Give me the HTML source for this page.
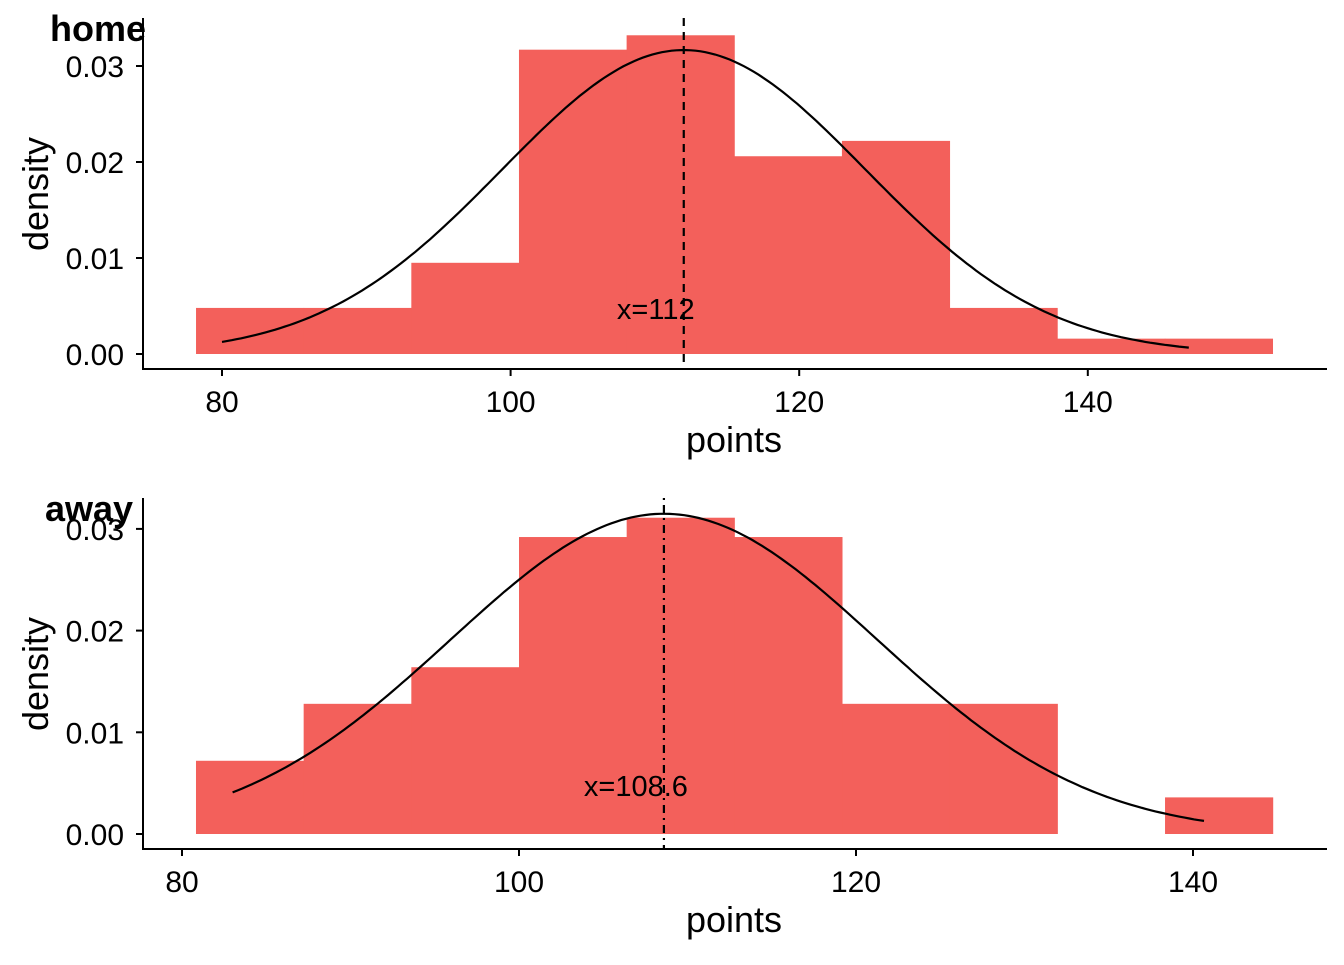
<!DOCTYPE html>
<html><head><meta charset="utf-8"><style>
body{margin:0;background:#fff}
svg text{font-family:"Liberation Sans",Arial,sans-serif;fill:#000}
</style></head><body>
<svg id="c" width="1344" height="960"></svg>
<script>
// Home panel data
const homeStart = 78.2;
const homeWidth = 7.46;
const homeDensity = [0.0048,0.0048,0.0095,0.0317,0.0332,0.0206,0.0222,0.0048,0.0016,0.0016];
const homeMean = 112;
const homeSd = 12.6;
const homeCurveRange = [80,147];
const homeXTicks = [80,100,120,140];
// Away panel data
const awayStart = 80.83;
const awayWidth = 6.39;
const awayDensity = [0.0072,0.0128,0.0164,0.0292,0.0311,0.0292,0.0128,0.0128,0,0.0036];
const awayMean = 108.6;
const awaySd = 12.67;
const awayCurveRange = [83,140.65];
const awayXTicks = [80,100,120,140];
const yTicks = [0,0.01,0.02,0.03];
const yTickLabels = ["0.00","0.01","0.02","0.03"];

const NS="http://www.w3.org/2000/svg";
const svg=document.getElementById('c');
function mk(tag,attrs,parent){const e=document.createElementNS(NS,tag);for(const k in attrs)e.setAttribute(k,attrs[k]);(parent||svg).appendChild(e);return e;}

function panel(o){
  const g=mk('g',{});
  
  
  const X=v=>o.x0px+(v-o.x0)*o.xs;
  const Y=v=>o.y0px-v*o.ys;
  o.dens.forEach((d,i)=>{
    if(d<=0)return;
    const x1=X(o.start+i*o.w),x2=X(o.start+(i+1)*o.w);
    const r=mk('rect',{x:x1,y:Y(d),width:x2-x1+0.5,height:Y(0)-Y(d),fill:'#F3605B'},g);
    
    
  });
  let p='';
  for(let i=0;i<=200;i++){const v=o.cr[0]+(o.cr[1]-o.cr[0])*i/200;
    const d=Math.exp(-0.5*((v-o.mean)/o.sd)**2)/(o.sd*Math.sqrt(2*Math.PI));
    p+=(i?'L':'M')+X(v).toFixed(1)+' '+Y(d).toFixed(1);}
  const c=mk('path',{d:p,fill:'none',stroke:'#000','stroke-width':2.2},g);
  
  
  const vl=mk('line',{x1:X(o.mean),x2:X(o.mean),y1:o.top,y2:o.axisY,stroke:'#000','stroke-width':2.2,'stroke-dasharray':o.dash},g);
  
  
  const lb=mk('text',{x:X(o.mean)-28,y:Y(0.0047)+10,'font-size':29,'text-anchor':'middle'},g);
  lb.textContent='x='+o.mean;
  
  
  mk('line',{x1:143,x2:143,y1:o.top,y2:o.axisY+1,stroke:'#000','stroke-width':2},g);
  mk('line',{x1:142,x2:1327,y1:o.axisY,y2:o.axisY,stroke:'#000','stroke-width':2},g);
  yTicks.forEach((t,i)=>{
    mk('line',{x1:136,x2:143,y1:Y(t),y2:Y(t),stroke:'#000','stroke-width':2},g);
    const tt=mk('text',{x:124,y:Y(t)+11,'font-size':30,'text-anchor':'end'},g);
    tt.textContent=yTickLabels[i];
    
    
  });
  o.xt.forEach(t=>{
    mk('line',{x1:X(t),x2:X(t),y1:o.axisY,y2:o.axisY+7,stroke:'#000','stroke-width':2},g);
    const tt=mk('text',{x:X(t),y:o.axisY+43,'font-size':30,'text-anchor':'middle'},g);
    tt.textContent=t;
    
    
  });
  const xt=mk('text',{x:734,y:o.axisY+83,'font-size':36,'text-anchor':'middle'},g);
  xt.textContent='points';
  
  
  const yc=o.top+176;
  const yt=mk('text',{x:48,y:yc,'font-size':36,'text-anchor':'middle',transform:`rotate(-90 48 ${yc})`},g);
  yt.textContent='density';
  
  
  const ti=mk('text',{x:o.titleX,y:o.top+23,'font-size':36,'font-weight':'bold'},g);
  ti.textContent=o.name;
  
  
}
panel({name:'home',start:homeStart,w:homeWidth,dens:homeDensity,mean:homeMean,sd:homeSd,cr:homeCurveRange,xt:homeXTicks,
  x0:80,x0px:222,xs:14.43,y0px:354,ys:9600,top:18,axisY:369,dash:'8 6',titleX:50});
panel({name:'away',start:awayStart,w:awayWidth,dens:awayDensity,mean:awayMean,sd:awaySd,cr:awayCurveRange,xt:awayXTicks,
  x0:80,x0px:182,xs:16.85,y0px:834,ys:10170,top:498,axisY:849,dash:'2 5 8 5',titleX:45});
</script>
</body></html>
